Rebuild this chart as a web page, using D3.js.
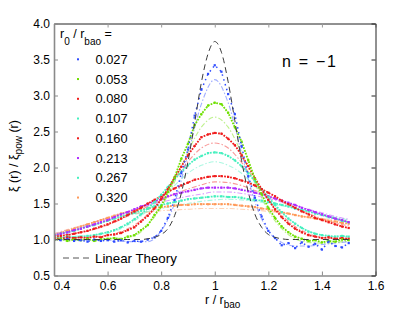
<!DOCTYPE html>
<html>
<head>
<meta charset="utf-8">
<script src="https://cdn.jsdelivr.net/npm/d3@7"></script>
<style>
  body { margin: 0; background: #fff; }
  text { font-family: "Liberation Sans", Arial, Helvetica, sans-serif; }
</style>
</head>
<body>
<div id="chart"></div>
<script>
// radii (r / r_bao) of the simulation points and of the smoothed theory curves
const rData = [0.4,0.425,0.45,0.475,0.5,0.525,0.55,0.575,0.6,0.625,0.65,0.675,0.7,0.725,0.75,0.775,0.8,0.825,0.85,0.875,0.9,0.925,0.95,0.975,1.0,1.025,1.05,1.075,1.1,1.125,1.15,1.175,1.2,1.225,1.25,1.275,1.3,1.325,1.35,1.375,1.4,1.425,1.45,1.475,1.5]
const rTheory = [0.4,0.45,0.5,0.55,0.6,0.65,0.7,0.75,0.8,0.85,0.9,0.95,1.0,1.05,1.1,1.15,1.2,1.25,1.3,1.35,1.4,1.45,1.5]

const r0Labels = ['0.027','0.053','0.080','0.107','0.160','0.213','0.267','0.320']

// measured xi / xi_pow, one array per r0
const data027 = [1.00,0.99,1.01,0.98,0.99,0.97,1.00,0.98,0.99,0.97,0.99,0.96,0.98,0.97,1.00,1.03,1.12,1.30,1.55,1.92,2.25,2.72,3.08,3.30,3.42,3.33,3.02,2.74,2.30,1.88,1.58,1.32,1.12,1.02,0.92,0.95,0.88,0.96,0.90,0.94,0.86,0.97,0.91,0.89,0.95]
const data053 = [0.99,1.01,0.98,1.00,0.99,1.01,0.98,1.00,1.01,1.02,1.00,1.04,1.06,1.13,1.20,1.34,1.46,1.66,1.86,2.12,2.33,2.59,2.74,2.86,2.90,2.88,2.76,2.56,2.36,2.10,1.84,1.63,1.44,1.30,1.18,1.10,1.04,1.01,0.98,0.99,0.96,0.98,0.97,1.00,0.99]
const data080 = [1.02,1.01,1.03,1.02,1.03,1.02,1.04,1.03,1.06,1.07,1.09,1.13,1.17,1.25,1.33,1.43,1.56,1.70,1.86,2.01,2.17,2.30,2.42,2.46,2.48,2.47,2.40,2.31,2.17,2.02,1.85,1.70,1.55,1.42,1.31,1.22,1.15,1.10,1.06,1.04,1.02,1.03,1.01,1.02,1.01]
const data107 = [1.03,1.02,1.04,1.03,1.04,1.05,1.06,1.08,1.10,1.13,1.17,1.22,1.28,1.35,1.43,1.52,1.62,1.73,1.84,1.94,2.03,2.11,2.16,2.20,2.21,2.20,2.16,2.10,2.02,1.92,1.81,1.70,1.59,1.48,1.38,1.29,1.22,1.16,1.11,1.08,1.06,1.05,1.04,1.05,1.04]
const data160 = [1.04,1.05,1.06,1.08,1.10,1.12,1.15,1.18,1.21,1.25,1.29,1.34,1.39,1.44,1.50,1.55,1.60,1.66,1.71,1.75,1.79,1.83,1.85,1.87,1.88,1.88,1.87,1.85,1.82,1.79,1.75,1.70,1.65,1.60,1.54,1.49,1.44,1.39,1.35,1.30,1.27,1.24,1.21,1.18,1.16]
const data213 = [1.06,1.08,1.10,1.13,1.15,1.18,1.21,1.24,1.27,1.31,1.35,1.38,1.42,1.46,1.49,1.53,1.56,1.60,1.63,1.65,1.67,1.69,1.71,1.72,1.72,1.72,1.72,1.71,1.69,1.67,1.65,1.63,1.60,1.57,1.54,1.51,1.48,1.44,1.41,1.38,1.35,1.32,1.29,1.27,1.24]
const data267 = [1.05,1.08,1.10,1.12,1.15,1.18,1.20,1.23,1.26,1.29,1.32,1.35,1.37,1.40,1.43,1.46,1.48,1.50,1.52,1.54,1.56,1.57,1.58,1.59,1.60,1.60,1.59,1.59,1.58,1.56,1.55,1.54,1.52,1.50,1.48,1.46,1.43,1.41,1.39,1.36,1.34,1.31,1.29,1.26,1.24]
const data320 = [1.06,1.09,1.12,1.15,1.18,1.21,1.24,1.27,1.30,1.33,1.36,1.38,1.40,1.42,1.43,1.44,1.45,1.46,1.47,1.48,1.48,1.49,1.49,1.49,1.49,1.49,1.49,1.48,1.47,1.46,1.45,1.43,1.42,1.40,1.38,1.36,1.34,1.32,1.31,1.29,1.28,1.26,1.25,1.23,1.22]

// smoothed theory curves (dash-dot), one array per r0
const theory027 = [1.00,1.00,0.99,0.99,0.99,0.98,0.97,0.97,1.12,1.50,2.18,2.88,3.22,2.90,2.20,1.52,1.12,0.96,0.91,0.91,0.93,0.95,0.97]
const theory053 = [1.00,1.00,1.00,1.00,1.01,1.02,1.05,1.20,1.45,1.80,2.22,2.56,2.70,2.56,2.20,1.78,1.40,1.15,1.01,0.96,0.95,0.96,0.98]
const theory080 = [1.02,1.02,1.03,1.04,1.06,1.11,1.20,1.35,1.56,1.82,2.08,2.27,2.34,2.27,2.07,1.81,1.55,1.34,1.18,1.08,1.03,1.01,1.01]
const theory107 = [1.03,1.04,1.05,1.06,1.09,1.15,1.26,1.40,1.57,1.75,1.92,2.03,2.08,2.03,1.92,1.74,1.55,1.37,1.22,1.12,1.06,1.04,1.04]
const theory160 = [1.05,1.07,1.10,1.14,1.20,1.28,1.37,1.46,1.55,1.63,1.70,1.76,1.80,1.79,1.75,1.68,1.61,1.52,1.44,1.36,1.29,1.23,1.19]
const theory213 = [1.08,1.13,1.18,1.24,1.30,1.36,1.42,1.47,1.52,1.56,1.60,1.63,1.66,1.66,1.64,1.61,1.57,1.52,1.47,1.42,1.37,1.32,1.28]
const theory267 = [1.06,1.11,1.16,1.21,1.26,1.31,1.35,1.39,1.43,1.47,1.50,1.53,1.55,1.56,1.55,1.53,1.50,1.47,1.43,1.39,1.35,1.31,1.27]
const theory320 = [1.08,1.14,1.19,1.24,1.29,1.33,1.36,1.38,1.40,1.41,1.42,1.43,1.43,1.43,1.42,1.41,1.39,1.37,1.34,1.31,1.29,1.27,1.25]

// linear theory (black dashed), on the rData grid
const linearTheory = [1.00,1.00,1.00,1.00,1.00,1.00,1.00,1.00,1.00,1.00,1.00,1.00,1.00,1.00,1.01,1.03,1.07,1.15,1.33,1.64,2.08,2.62,3.18,3.58,3.75,3.60,3.19,2.65,2.10,1.66,1.35,1.17,1.07,1.03,1.01,1.00,1.00,1.00,1.00,1.00,1.00,1.00,1.00,1.00,1.00]

const xTicks = [0.4,0.6,0.8,1.0,1.2,1.4,1.6]
const yTicks = [0.5,1.0,1.5,2.0,2.5,3.0,3.5,4.0]

function drawChart(){
    //1) series table built from the arrays above
    const colors = ['#2f4cff','#6fe000','#f01c1c','#46f0bf','#f01c1c','#b02cff','#46f0bf','#ff9a5a']
    const dataList = [data027,data053,data080,data107,data160,data213,data267,data320]
    const theoryList = [theory027,theory053,theory080,theory107,theory160,theory213,theory267,theory320]
    const series = r0Labels.map((label,i) => ({
        label,
        color: colors[i],
        points: rData.map((r,j) => [r, dataList[i][j]]),
        theory: rTheory.map((r,j) => [r, theoryList[i][j]])
    }))

    //2) dimensions
    const dimensions = { width: 415, height: 312, left: 54, top: 23.5, right: 375.5, bottom: 275.5 }

    const svg = d3.select('#chart')
                  .append('svg')
                  .attr('width', dimensions.width)
                  .attr('height', dimensions.height)

    //3) scales
    const x = d3.scaleLinear().domain([0.4,1.6]).range([dimensions.left, dimensions.right])
    const y = d3.scaleLinear().domain([0.5,4]).range([dimensions.bottom, dimensions.top])

    svg.append('clipPath').attr('id','plot-clip')
       .append('rect')
       .attr('x', dimensions.left).attr('y', dimensions.top)
       .attr('width', dimensions.right - dimensions.left)
       .attr('height', dimensions.bottom - dimensions.top)

    const plot = svg.append('g').attr('clip-path','url(#plot-clip)')

    const smoothLine = d3.line().x(d => x(d[0])).y(d => y(d[1])).curve(d3.curveMonotoneX)
    const rawLine = d3.line().x(d => x(d[0])).y(d => y(d[1]))

    //4) theory dash-dot curves
    plot.selectAll('.theory')
        .data(series)
        .enter()
        .append('path')
        .attr('class','theory')
        .attr('d', d => smoothLine(d.theory))
        .attr('fill','none')
        .attr('stroke', d => d.color)
        .attr('stroke-opacity', 0.45)
        .attr('stroke-width', 1.1)
        .attr('stroke-dasharray','5,2,1.5,2')

    //5) simulation points, drawn as dense dots
    const groups = plot.selectAll('.sim')
                       .data(series.slice().reverse())
                       .enter()
                       .append('g')
                       .attr('class','sim')

    groups.append('path')
          .attr('d', d => rawLine(d.points))
          .attr('fill','none')
          .attr('stroke', d => d.color)
          .attr('stroke-width', d => d.label === '0.027' ? 1.5 : 1.8)
          .attr('stroke-dasharray', d => d.label === '0.027' ? '1.5,3.5' : '1.8,1.2')

    groups.selectAll('rect')
          .data(d => d.points.map(p => ({p, color: d.color})))
          .enter()
          .append('rect')
          .attr('x', d => x(d.p[0]) - 1.1)
          .attr('y', d => y(d.p[1]) - 1.1)
          .attr('width', 2.2)
          .attr('height', 2.2)
          .attr('fill', d => d.color)

    //6) linear theory
    plot.append('path')
        .attr('d', smoothLine(rData.map((r,i) => [r, linearTheory[i]])))
        .attr('fill','none')
        .attr('stroke','#3a3a3a')
        .attr('stroke-width',1)
        .attr('stroke-dasharray','6,4')

    //7) axes, ticks pointing inwards
    const styleAxis = (g, color, width) => {
        g.select('.domain').attr('stroke', color).attr('stroke-width', width)
        g.selectAll('.tick line').attr('stroke', color)
        g.selectAll('.tick text').attr('fill','#000').attr('font-size', 12)
           .attr('font-family','"Liberation Sans", Arial, sans-serif')
    }

    const bottomAxis = svg.append('g')
        .attr('transform', `translate(0,${dimensions.bottom})`)
        .call(d3.axisBottom(x).tickValues(xTicks).tickSizeInner(-4).tickSizeOuter(0).tickPadding(6).tickFormat(d3.format('')))
    styleAxis(bottomAxis, '#8a8a8a', 1.6)
    bottomAxis.selectAll('.tick text').filter(d => d === 0.4).attr('text-anchor','start').attr('x', -1)

    const topAxis = svg.append('g')
        .attr('transform', `translate(0,${dimensions.top})`)
        .call(d3.axisTop(x).tickValues(xTicks).tickSizeInner(-4).tickSizeOuter(0).tickFormat(''))
    styleAxis(topAxis, '#222', 1)
    topAxis.selectAll('.tick line').attr('stroke','#999')

    const leftAxis = svg.append('g')
        .attr('transform', `translate(${dimensions.left},0)`)
        .call(d3.axisLeft(y).tickValues(yTicks).tickSizeInner(-4).tickSizeOuter(0).tickPadding(4).tickFormat(d3.format('.1f')))
    styleAxis(leftAxis, '#8a8a8a', 1.6)

    const rightAxis = svg.append('g')
        .attr('transform', `translate(${dimensions.right},0)`)
        .call(d3.axisRight(y).tickValues(yTicks).tickSizeInner(-4).tickSizeOuter(0).tickFormat(''))
    styleAxis(rightAxis, '#222', 1)

    //8) axis titles
    const xTitle = svg.append('text')
        .attr('x', 205).attr('y', 303.5)
        .attr('font-size', 12.5)
    xTitle.append('tspan').text('r / r')
    xTitle.append('tspan').attr('dy', 4.5).attr('font-size', 10).text('bao')

    const yTitle = svg.append('text')
        .attr('transform','translate(18,192) rotate(-90)')
        .attr('font-size', 12.5)
    yTitle.append('tspan').text('ξ (r) / ξ')
    yTitle.append('tspan').attr('dy', 4).attr('font-size', 10).text('pow')
    yTitle.append('tspan').attr('dy', -4).text(' (r)')

    svg.append('text')
       .attr('x', 282).attr('y', 66.5)
       .attr('font-size', 16)
       .attr('textLength', 54)
       .attr('lengthAdjust','spacing')
       .text('n = −1')

    //9) legend
    const legendTitle = svg.append('text').attr('x', 60).attr('y', 38).attr('font-size', 12.5)
    legendTitle.append('tspan').text('r')
    legendTitle.append('tspan').attr('dy', 7).attr('font-size', 10).text('0')
    legendTitle.append('tspan').attr('dy', -7).text(' / r')
    legendTitle.append('tspan').attr('dy', 7).attr('font-size', 10).text('bao')
    legendTitle.append('tspan').attr('dy', -7).text(' =')

    const legendRows = svg.selectAll('.legend-row')
        .data(series)
        .enter()
        .append('g')
        .attr('class','legend-row')
        .attr('transform', (d,i) => `translate(0,${59.3 + i * 19.75})`)

    legendRows.append('rect')
        .attr('x', 77).attr('y', -1)
        .attr('width', 2).attr('height', 2)
        .attr('fill', d => d.color)

    legendRows.append('text')
        .attr('x', 95.5).attr('y', 4.6)
        .attr('font-size', 12.8)
        .text(d => d.label)

    svg.append('line')
       .attr('x1', 63).attr('x2', 92)
       .attr('y1', 258).attr('y2', 258)
       .attr('stroke','#555')
       .attr('stroke-dasharray','6,4')

    svg.append('text')
       .attr('x', 95).attr('y', 262.8)
       .attr('font-size', 13.3)
       .text('Linear Theory')
}
drawChart()
</script>
</body>
</html>
